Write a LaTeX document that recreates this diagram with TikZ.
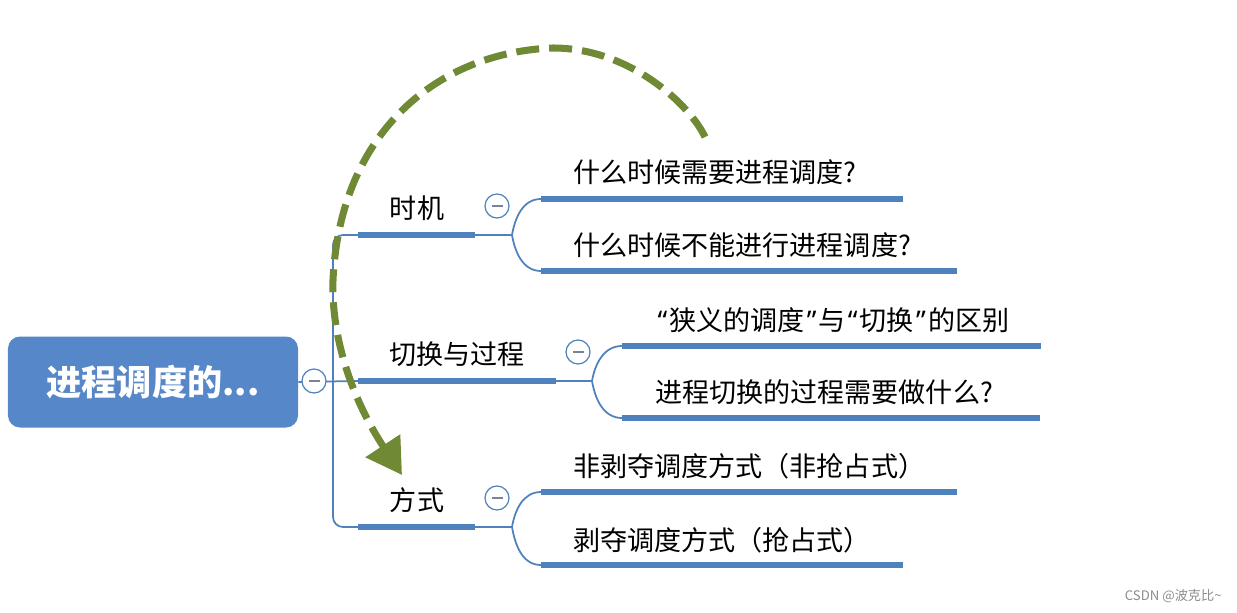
\documentclass[tikz,border=0pt]{standalone}
\usepackage{fontspec}
\setmainfont{Noto Sans CJK SC}
\newfontfamily\quotefont{Noto Sans}
\newcommand\qopen{\hspace{0.08em}{\quotefont “}\hspace{0.08em}}
\newcommand\qclose{\hspace{0.08em}{\quotefont ”}\hspace{0.08em}}
\usepackage{xcolor}
\usetikzlibrary{arrows.meta}
\definecolor{mapblue}{RGB}{79,129,189}
\definecolor{rootblue}{RGB}{86,135,201}
\definecolor{olivegreen}{RGB}{111,137,52}
\definecolor{foldgray}{RGB}{120,130,155}
\tikzset{
root/.style={rounded corners=2.4mm,fill=rootblue,text=white,font=\fontsize{20}{24}\selectfont\bfseries,minimum width=58mm,minimum height=18.2mm},
topic/.style={font=\fontsize{15.4}{18}\selectfont,inner sep=0pt},
leaf/.style={anchor=west,font=\fontsize{15.4}{18}\selectfont,inner sep=0pt},
fold/.style={circle,draw=mapblue,line width=0.7pt,fill=white,minimum size=4.8mm,inner sep=0pt,
 path picture={\draw[foldgray,line width=0.9pt]([xshift=-1.1mm]path picture bounding box.center)--([xshift=1.1mm]path picture bounding box.center);}},
thick line/.style={mapblue,line width=3.4pt},
thin line/.style={mapblue,line width=1pt},
jump/.style={olivegreen,line width=4pt,dash pattern=on 4.6mm off 2mm,-{Triangle[length=7mm,width=8mm]}}
}
\begin{document}
\begin{tikzpicture}[x=0.2mm,y=-0.2mm]
\path[use as bounding box](0,0)rectangle(1237,613);
\node[root](root)at(153,382){进程调度的...};
\node[topic](t1)at(417,208){时机};
\node[topic](t2)at(457,354){切换与过程};
\node[topic](t3)at(417,500){方式};
\node[leaf](l11)at(573,172){什么时候需要进程调度?};
\node[leaf](l12)at(573,245){什么时候不能进行进程调度?};
\node[leaf](l21)at(655,320){\qopen 狭义的调度\qclose 与\qopen 切换\qclose 的区别};
\node[leaf](l22)at(655,392){进程切换的过程需要做什么?};
\node[leaf](l31)at(573,466){非剥夺调度方式（非抢占式）};
\node[leaf](l32)at(573,540){剥夺调度方式（抢占式）};
\coordinate(trunk)at(333,381);
\coordinate(t1a)at(358,235);\coordinate(t1b)at(475,235);\coordinate(t1j)at(512,235);
\coordinate(t2a)at(358,381);\coordinate(t2b)at(556,381);\coordinate(t2j)at(592,381);
\coordinate(t3a)at(358,527);\coordinate(t3b)at(475,527);\coordinate(t3j)at(512,527);
\coordinate(l11a)at(541,199);\coordinate(l11b)at(903,199);
\coordinate(l12a)at(541,271);\coordinate(l12b)at(957,271);
\coordinate(l21a)at(622,346);\coordinate(l21b)at(1041,346);
\coordinate(l22a)at(622,418);\coordinate(l22b)at(1040,418);
\coordinate(l31a)at(541,492);\coordinate(l31b)at(957,492);
\coordinate(l32a)at(541,565);\coordinate(l32b)at(903,565);
\draw[thin line,rounded corners=2mm](t1a)-|(trunk)|-(t3a);
\draw[thin line](root.east)--(t2a);
\draw[thin line](t1b)--(t1j)(t2b)--(t2j)(t3b)--(t3j);
\draw[thin line](t1j)to[out=80,in=180](l11a)(t1j)to[out=-80,in=180](l12a);
\draw[thin line](t2j)to[out=80,in=180](l21a)(t2j)to[out=-80,in=180](l22a);
\draw[thin line](t3j)to[out=80,in=180](l31a)(t3j)to[out=-80,in=180](l32a);
\draw[thick line](t1a)--(t1b)(t2a)--(t2b)(t3a)--(t3b);
\draw[thick line](l11a)--(l11b)(l12a)--(l12b)(l21a)--(l21b)(l22a)--(l22b)(l31a)--(l31b)(l32a)--(l32b);
\node[fold](f0)at(314,381){};
\node[fold](f1)at(497,206){};
\node[fold](f2)at(578,352){};
\node[fold](f3)at(497,498){};
\coordinate(jumpfrom)at(705,137);\coordinate(jumpto)at(402,475);
\draw[jump](jumpfrom)..controls(690,105)and(630,48)..(553,48)..controls(440,52)and(340,130)..(333,280)..controls(331,340)and(354,402)..(jumpto);
\node[font=\fontsize{7.5}{9}\selectfont,text=black!45,anchor=east,inner sep=0pt](mark)at(1222,596){CSDN @波克比\textasciitilde};
\end{tikzpicture}
\end{document}
